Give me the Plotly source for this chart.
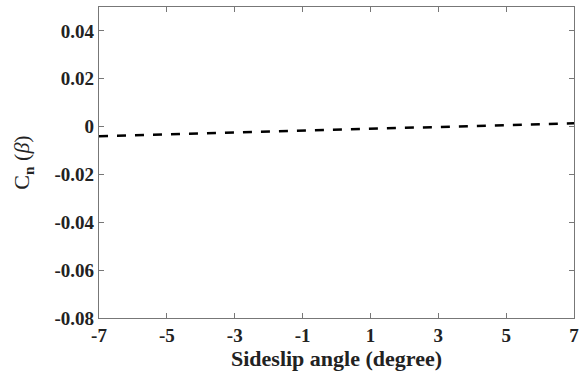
import plotly.graph_objects as go

beta = [-7, -6, -5, -4, -3, -2, -1, 0, 1, 2, 3, 4, 5, 6, 7]
cn = [-0.0040, -0.0036, -0.0032, -0.0029, -0.0025, -0.0021, -0.0018, -0.0014,
      -0.0010, -0.0007, -0.0003, 0.0001, 0.0005, 0.0009, 0.0014]
xticks = [-7, -5, -3, -1, 1, 3, 5, 7]
yticks = [-0.08, -0.06, -0.04, -0.02, 0, 0.02, 0.04]
yticklabels = ["-0.08", "-0.06", "-0.04", "-0.02", "0", "0.02", "0.04"]

fig = go.Figure()
fig.add_trace(go.Scatter(x=beta, y=cn, mode="lines",
                         line=dict(color="black", width=2.5, dash="9px,9px"),
                         showlegend=False))

tickfont = dict(family="Liberation Serif", size=19, color="#222")
titlefont = dict(family="Liberation Serif", size=22, color="#222")
axcommon = dict(showgrid=False, zeroline=False, showline=True, linecolor="#777",
                linewidth=1.2, mirror="ticks", ticks="inside", ticklen=5,
                tickcolor="#777", tickfont=tickfont, ticklabeloverflow="allow")
fig.update_xaxes(range=[-7, 7], tickvals=xticks,
                 ticktext=["<b>%d</b>" % v for v in xticks],
                 title=dict(text="<b>Sideslip angle (degree)</b>", font=titlefont, standoff=4),
                 **axcommon)
fig.update_yaxes(range=[-0.08, 0.05], tickvals=yticks,
                 ticktext=["<b>%s</b>" % t for t in yticklabels],
                 title=dict(text="C<sub><b>n</b></sub> (<i>β</i>)", font=titlefont, standoff=18),
                 **axcommon)
fig.update_layout(width=585, height=381, margin=dict(l=99, r=6, t=6, b=63),
                  plot_bgcolor="white", paper_bgcolor="white",
                  font=dict(family="Liberation Serif", size=19, color="#222"))
fig.write_html("out.html", config={"displayModeBar": False},
               post_script="document.body.style.margin='0';")
